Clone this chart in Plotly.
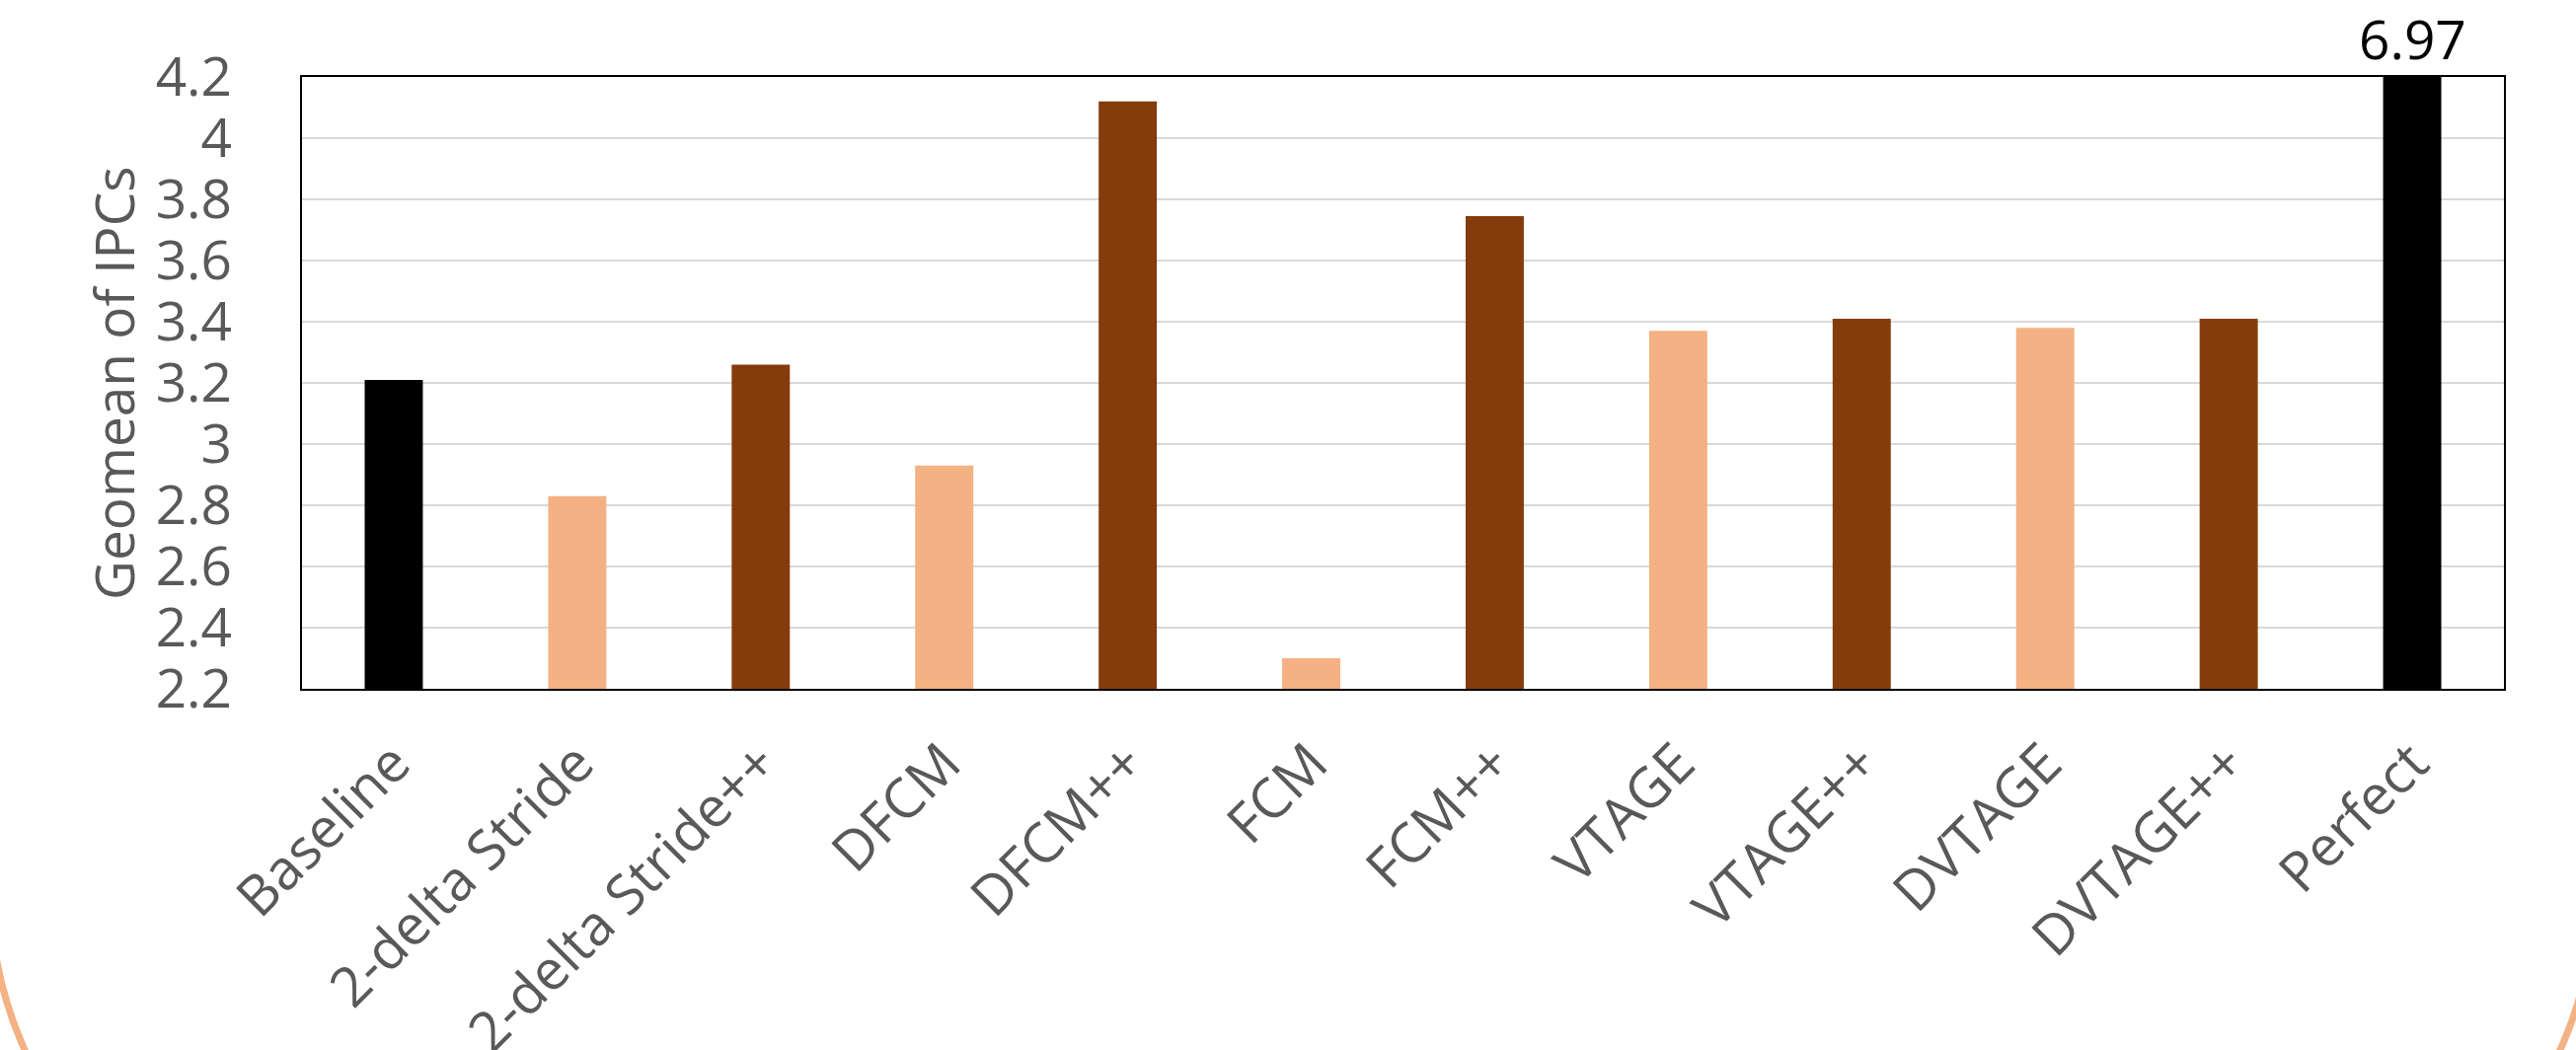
import plotly.graph_objects as go

# Geomean IPC per value-prediction scheme
predictors = ["Baseline", "2-delta Stride", "2-delta Stride++", "DFCM", "DFCM++",
              "FCM", "FCM++", "VTAGE", "VTAGE++", "DVTAGE", "DVTAGE++", "Perfect"]
geomean_ipc = [3.21, 2.83, 3.26, 2.93, 4.12, 2.30, 3.745, 3.37, 3.41, 3.38, 3.41, 6.97]
bar_kind = ["ref", "base", "plus", "base", "plus", "base", "plus",
            "base", "plus", "base", "plus", "ref"]

y_ticks = [2.2, 2.4, 2.6, 2.8, 3.0, 3.2, 3.4, 3.6, 3.8, 4.0, 4.2]
y_tick_text = ["2.2", "2.4", "2.6", "2.8", "3", "3.2", "3.4", "3.6", "3.8", "4", "4.2"]
y_title = "Geomean of IPCs"

KIND_COLORS = {"ref": "#000000", "base": "#F4B183", "plus": "#843C0C"}
GRAY = "#595959"
FONT = "Open Sans"

W, H = 2610, 1064
ML, MR, MT, MB = 306, 73, 78, 366
PW, PH = W - ML - MR, H - MT - MB


def px(x):
    return (x - ML) / PW


def py(y):
    return (H - MB - y) / PH


fig = go.Figure(
    go.Bar(
        x=predictors,
        y=geomean_ipc,
        marker=dict(color=[KIND_COLORS[k] for k in bar_kind], line=dict(width=0)),
        showlegend=False,
    )
)

# value label for the bar that runs off the top of the axis
fig.add_annotation(
    x=predictors[-1], y=y_ticks[-1], xref="x", yref="y",
    text=f"{geomean_ipc[-1]:.2f}", showarrow=False,
    yanchor="bottom", yshift=0,
    font=dict(family=FONT, size=55, color="#000000"),
)

# y-axis title
fig.add_annotation(
    x=px(114), y=0.5, xref="paper", yref="paper",
    text=y_title, textangle=-90, showarrow=False,
    xanchor="center", yanchor="middle",
    font=dict(family=FONT, size=55, color=GRAY),
)

# rounded frame corners in the page background
k = 0.5523
r = 400
lx, rx, cy = -10, 2629, 900
bottom = cy + r
path = (
    f"M {px(lx)} {py(400)} L {px(lx)} {py(cy)} "
    f"C {px(lx)} {py(cy + k * r)} {px(lx + r - k * r)} {py(bottom)} {px(lx + r)} {py(bottom)} "
    f"L {px(rx - r)} {py(bottom)} "
    f"C {px(rx - r + k * r)} {py(bottom)} {px(rx)} {py(cy + k * r)} {px(rx)} {py(cy)} "
    f"L {px(rx)} {py(400)}"
)
fig.add_shape(type="path", path=path, xref="paper", yref="paper",
              line=dict(color="#F4B183", width=7), layer="below")

fig.update_layout(
    width=W, height=H,
    margin=dict(l=ML, r=MR, t=MT, b=MB, autoexpand=False),
    paper_bgcolor="white", plot_bgcolor="white",
    bargap=0.683,
    font=dict(family=FONT, color=GRAY),
)

fig.update_xaxes(
    showline=True, linecolor="#000000", linewidth=2, mirror=True,
    showgrid=False, ticks="", tickangle=-45,
    tickfont=dict(family=FONT, size=56, color=GRAY),
    ticklabelstandoff=18,
    automargin=False,
)

fig.update_yaxes(
    range=[y_ticks[0], y_ticks[-1]],
    tickvals=y_ticks, ticktext=y_tick_text,
    showline=True, linecolor="#000000", linewidth=2, mirror=True,
    showgrid=True, gridcolor="#D9D9D9", gridwidth=2,
    zeroline=False, ticks="",
    tickfont=dict(family=FONT, size=55, color=GRAY),
    ticklabelstandoff=58,
    automargin=False,
)

fig.write_html("out.html")
